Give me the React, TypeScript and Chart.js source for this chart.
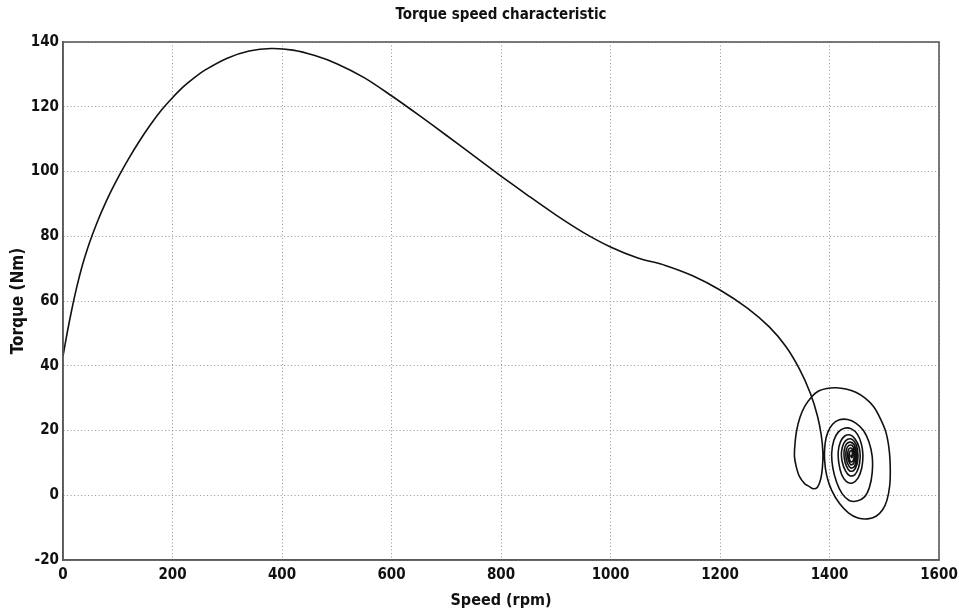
import React, { useEffect, useRef } from "react";
import { Chart, registerables } from "chart.js";

Chart.register(...registerables);

const TITLE = "Torque speed characteristic";
const X_LABEL = "Speed (rpm)";
const Y_LABEL = "Torque (Nm)";

const X_MIN = 0;
const X_MAX = 1600;
const X_STEP = 200;
const Y_MIN = -20;
const Y_MAX = 140;
const Y_STEP = 20;

// speed (rpm) samples of the trajectory
const speed: number[] = [
  // run-up curve
  0, 8, 16, 25, 35, 45, 54, 65, 75, 88, 103, 120, 140, 160, 181, 200, 220, 240, 260, 300, 340,
  380, 420, 460, 500, 550, 600, 650, 700, 750, 800, 850, 900, 950, 1000, 1050, 1100, 1150,
  1200, 1250, 1290, 1320, 1345, 1365, 1378, 1385, 1388, 1387,
  // left lobe and outer ring
  1384, 1378, 1370, 1362, 1355, 1345, 1339, 1336, 1337, 1340, 1346, 1355, 1368, 1380, 1395,
  1412, 1430, 1448, 1465, 1480, 1492, 1503, 1509, 1511, 1510, 1505, 1497, 1485, 1470, 1452,
  1435, 1418, 1404, 1395, 1391, 1392,
  // ring 2
  1397, 1406, 1418, 1433, 1448, 1462, 1472, 1478, 1478, 1473, 1464, 1450, 1436, 1423, 1413,
  1406, 1404,
  // ring 3
  1408, 1416, 1427, 1440, 1451, 1458, 1461, 1459, 1452, 1442, 1431, 1422, 1417, 1416,
  // ring 4
  1420, 1428, 1438, 1447, 1454, 1456, 1453, 1446, 1437, 1429, 1423, 1422,
  // ring 5
  1426, 1433, 1442, 1449, 1452, 1450, 1444, 1437, 1431, 1427, 1427,
  // ring 6
  1431, 1438, 1445, 1449, 1449, 1445, 1439, 1433, 1430, 1431,
  // ring 7
  1435, 1441, 1446, 1447, 1444, 1439, 1435, 1433, 1435,
  // ring 8 and settling point
  1439, 1443, 1445, 1443, 1439, 1436, 1437, 1440, 1442, 1441, 1439, 1440,
];

// torque (Nm) samples matching the speed list
const torque: number[] = [
  // run-up curve
  43, 50.5, 57.3, 64.2, 70.8, 76.3, 80.6, 85.4, 89.3, 94, 98.9, 104, 109.5, 114.5, 119.2,
  122.8, 126.2, 129, 131.4, 135, 137.2, 138, 137.5, 135.8, 133.3, 129, 123.4, 117.4, 111.2,
  104.9, 98.6, 92.5, 86.6, 81.2, 76.7, 73.3, 71, 67.8, 63.4, 57.8, 52, 46, 39, 31.5, 24.5,
  18.5, 13, 8.5,
  // left lobe and outer ring
  5, 2.5, 2, 2.8, 3.5, 5.8, 9, 12, 16, 20, 24, 27.5, 30.5, 32.2, 33, 33.2, 32.8, 31.8, 30,
  27.5, 24, 19.5, 14, 8, 3, -1.5, -4.5, -6.5, -7.3, -7, -5.5, -2.5, 1.5, 6, 11, 16,
  // ring 2
  19.5, 22, 23.3, 23.4, 22.3, 20, 16.5, 12, 7, 2.5, -0.5, -1.8, -1.6, 0.5, 4, 8.5, 13,
  // ring 3
  17, 19.5, 20.7, 20.5, 18.8, 16, 12.5, 8.5, 5.3, 3.8, 4.2, 6.5, 10, 13.5,
  // ring 4
  16.5, 18.3, 18.6, 17.3, 14.8, 11.8, 8.5, 6.3, 6, 7.6, 10.5, 13.5,
  // ring 5
  16, 17.3, 17.2, 15.5, 12.5, 9.5, 7.6, 7.5, 9, 11.5, 14,
  // ring 6
  15.8, 16.4, 15.6, 13.4, 10.8, 8.8, 8.4, 9.8, 12, 14.2,
  // ring 7
  15.3, 15.4, 13.8, 11.6, 9.8, 9.4, 10.6, 12.4, 14.2,
  // ring 8 and settling point
  14.6, 14, 12.2, 10.6, 10.3, 11.6, 13.4, 13.9, 12.8, 11.6, 12, 12.6,
];

const FONT = "'Liberation Sans Narrow', 'DejaVu Sans Condensed', 'Liberation Sans', Arial, sans-serif";

export default function App() {
  const ref = useRef<HTMLCanvasElement | null>(null);

  useEffect(() => {
    if (!ref.current) return;
    const points = speed.map((s, i) => ({ x: s, y: torque[i] }));

    const frame = {
      id: "frame",
      afterDatasetsDraw(chart: any) {
        const { ctx, chartArea } = chart;
        ctx.save();
        ctx.strokeStyle = "#5a5a5a";
        ctx.lineWidth = 1.6;
        ctx.strokeRect(chartArea.left, chartArea.top, chartArea.right - chartArea.left, chartArea.bottom - chartArea.top);
        ctx.restore();
      },
    };

    const chart = new Chart(ref.current, {
      type: "scatter",
      data: {
        datasets: [
          {
            data: points,
            showLine: true,
            borderColor: "#111111",
            borderWidth: 1.6,
            pointRadius: 0,
            tension: 0.3,
            fill: false,
          },
        ],
      },
      options: {
        animation: false,
        responsive: false,
        maintainAspectRatio: false,
        layout: { padding: { left: 0, right: 20, top: 0, bottom: 0 } },
        plugins: {
          legend: { display: false },
          tooltip: { enabled: false },
          title: {
            display: true,
            fullSize: false,
            text: TITLE,
            color: "#111",
            font: { family: FONT, size: 15, weight: "bold" },
            padding: { top: 6, bottom: 18 },
          },
        },
        scales: {
          x: {
            type: "linear",
            min: X_MIN,
            max: X_MAX,
            ticks: {
              stepSize: X_STEP,
              color: "#111",
              padding: 6,
              maxRotation: 0,
              font: { family: FONT, size: 15, weight: "bold" },
              callback: (v: any) => String(v),
            },
            grid: { color: "#959595", lineWidth: 1, drawTicks: false },
            border: { display: true, color: "#5a5a5a", width: 1.6, dash: [1, 2.5] },
            title: {
              display: true,
              text: X_LABEL,
              color: "#111",
              font: { family: FONT, size: 16, weight: "bold" },
              padding: { top: 0, bottom: 2 },
            },
            afterFit(scale: any) {
              scale.height = 52;
              scale.paddingRight = 0;
              scale.paddingLeft = 0;
            },
          },
          y: {
            type: "linear",
            min: Y_MIN,
            max: Y_MAX,
            ticks: {
              stepSize: Y_STEP,
              color: "#111",
              padding: 4,
              font: { family: FONT, size: 15, weight: "bold" },
              callback: (v: any) => String(v),
            },
            grid: { color: "#959595", lineWidth: 1, drawTicks: false },
            border: { display: true, color: "#5a5a5a", width: 1.6, dash: [1, 2.5] },
            title: {
              display: true,
              text: Y_LABEL,
              color: "#111",
              font: { family: FONT, size: 17, weight: "bold" },
              padding: { top: 8, bottom: 0 },
            },
            afterFit(scale: any) {
              scale.width = 63;
            },
          },
        },
      },
      plugins: [frame],
    });

    return () => chart.destroy();
  }, []);

  return (
    <div style={{ position: "fixed", left: 0, top: 0, width: 959, height: 612, background: "#fff" }}>
      <canvas ref={ref} width={959} height={612} />
    </div>
  );
}
